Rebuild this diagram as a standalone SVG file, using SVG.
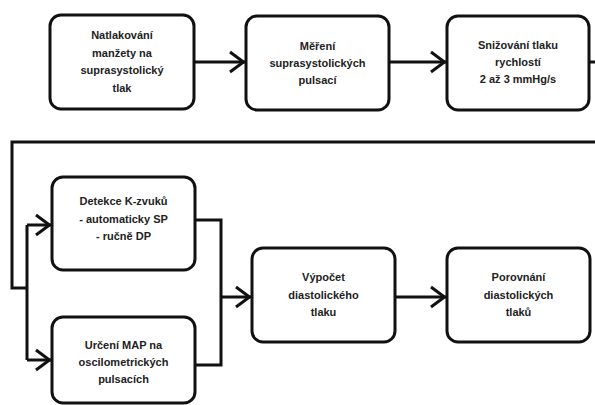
<svg xmlns="http://www.w3.org/2000/svg" width="595" height="405" viewBox="0 0 595 405">
<defs>
<marker id="arr" markerUnits="userSpaceOnUse" viewBox="-18 -12 20 24" markerWidth="20" markerHeight="24" refX="0" refY="0" orient="auto">
<path d="M-15,-10 L-1.5,0 L-15,10" fill="none" stroke="#111" stroke-width="3"/>
</marker>
<style>
.box{fill:#fff;stroke:#111;stroke-width:3}
.ln{fill:none;stroke:#111;stroke-width:3}
text{font-family:"Liberation Sans",Arial,sans-serif;font-weight:bold;font-size:11px;fill:#222;text-anchor:middle}
</style>
</defs>
<rect width="595" height="405" fill="#fff"/>
<g id="connectors">
<path class="ln" d="M194,62 H245" marker-end="url(#arr)"/>
<path class="ln" d="M389,62 H446" marker-end="url(#arr)"/>
<path class="ln" d="M589,62 H595"/>
<path class="ln" d="M595,142 H12 V288 H27"/>
<path class="ln" d="M27,225 V360"/>
<path class="ln" d="M27,225 H51" marker-end="url(#arr)"/>
<path class="ln" d="M27,360 H51" marker-end="url(#arr)"/>
<path class="ln" d="M195,220 H221 V365 H195"/>
<path class="ln" d="M221,297 H251" marker-end="url(#arr)"/>
<path class="ln" d="M395,297 H446" marker-end="url(#arr)"/>
</g>
<g id="n1">
<rect class="box" x="50" y="15" width="144" height="94" rx="11"/>
<text x="122" y="39">Natlakování</text>
<text x="122" y="56.5">manžety na</text>
<text x="122" y="74">suprasystolický</text>
<text x="122" y="91.5">tlak</text>
</g>
<g id="n2">
<rect class="box" x="246" y="16" width="143" height="94" rx="11"/>
<text x="317.5" y="50">Měření</text>
<text x="317.5" y="67">suprasystolických</text>
<text x="317.5" y="84">pulsací</text>
</g>
<g id="n3">
<rect class="box" x="447" y="16" width="142" height="94" rx="11"/>
<text x="518" y="49">Snižování tlaku</text>
<text x="518" y="66">rychlostí</text>
<text x="518" y="83">2 až 3 mmHg/s</text>
</g>
<g id="n4">
<rect class="box" x="52" y="177" width="143" height="93" rx="11"/>
<text x="123.5" y="205">Detekce K-zvuků</text>
<text x="123.5" y="222.5">- automaticky SP</text>
<text x="123.5" y="240">- ručně DP</text>
</g>
<g id="n5">
<rect class="box" x="52" y="317" width="143" height="86" rx="11"/>
<text x="123.5" y="349">Určení MAP na</text>
<text x="123.5" y="366">oscilometrických</text>
<text x="123.5" y="383">pulsacích</text>
</g>
<g id="n6">
<rect class="box" x="252" y="248" width="143" height="94" rx="11"/>
<text x="323.5" y="281">Výpočet</text>
<text x="323.5" y="299">diastolického</text>
<text x="323.5" y="316">tlaku</text>
</g>
<g id="n7">
<rect class="box" x="447" y="248" width="143" height="94" rx="11"/>
<text x="518.5" y="281">Porovnání</text>
<text x="518.5" y="299">diastolických</text>
<text x="518.5" y="316">tlaků</text>
</g>
</svg>
